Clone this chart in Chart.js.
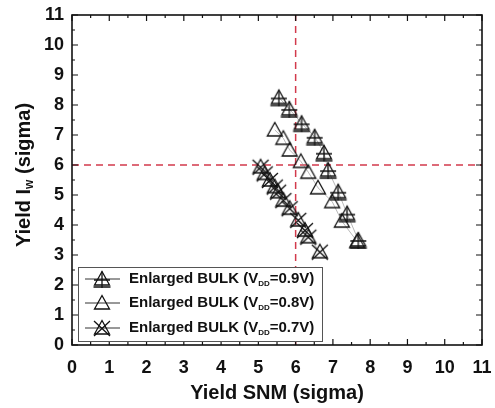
<!DOCTYPE html>
<html>
<head>
<meta charset="utf-8">
<script src="https://cdn.jsdelivr.net/npm/chart.js@4.4.0/dist/chart.umd.min.js"></script>
<style>
  html, body { margin: 0; padding: 0; background: #fff; }
  #wrap { width: 495px; height: 408px; }
</style>
</head>
<body>
<div id="wrap"><canvas id="chart" width="495" height="408"></canvas></div>
<script>
// values (sigma units)
const snm09 = [5.55, 5.83, 6.16, 6.51, 6.76, 6.87, 7.14, 7.38, 7.68];
const iw09  = [8.25, 7.87, 7.39, 6.94, 6.41, 5.83, 5.11, 4.38, 3.50];
const snm08 = [5.44, 5.67, 5.84, 6.14, 6.34, 6.60, 6.98, 7.24, 7.65];
const iw08  = [7.17, 6.89, 6.50, 6.12, 5.76, 5.24, 4.78, 4.13, 3.45];
const snm07 = [5.06, 5.17, 5.31, 5.44, 5.53, 5.67, 5.84, 6.07, 6.25, 6.34, 6.65];
const iw07  = [5.94, 5.72, 5.50, 5.28, 5.11, 4.83, 4.56, 4.17, 3.83, 3.61, 3.11];
const seriesLabels = ['0.9V', '0.8V', '0.7V'];
const targetSnm = 6;
const targetIw = 6;
const axisMin = 0;
const axisMax = 11;

const FONT = '"Liberation Sans", Arial, sans-serif';
const INK = '#111';

// triangle markers drawn once into small canvases
function makeMarker(kind) {
  const c = document.createElement('canvas');
  c.width = 20; c.height = 20;
  const g = c.getContext('2d');
  g.strokeStyle = INK;
  g.lineWidth = 1.3;
  g.beginPath();
  g.moveTo(10, 2.5);
  g.lineTo(17.5, 16);
  g.lineTo(2.5, 16);
  g.closePath();
  g.stroke();
  g.beginPath();
  if (kind === 'plus') {
    g.moveTo(10, 2.5); g.lineTo(10, 19);
    g.moveTo(2, 11); g.lineTo(18, 11);
    g.moveTo(1.5, 18); g.lineTo(18.5, 18);
  } else if (kind === 'x') {
    g.moveTo(2, 3); g.lineTo(18, 18);
    g.moveTo(18, 3); g.lineTo(2, 18);
  }
  g.stroke();
  return c;
}
const markers = [makeMarker('plus'), makeMarker('plain'), makeMarker('x')];

function pts(xs, ys) {
  return xs.map((x, i) => ({ x: x, y: ys[i] }));
}

function refLine(data) {
  return {
    data: data,
    showLine: true,
    borderColor: '#d23a4c',
    borderWidth: 1.5,
    borderDash: [7, 5],
    pointRadius: 0,
    order: 5
  };
}

function series(xs, ys, marker) {
  return {
    data: pts(xs, ys),
    showLine: true,
    borderColor: '#888',
    borderWidth: 0.6,
    pointStyle: marker,
    pointRadius: 8,
    order: 1
  };
}

// inward ticks on all four sides + frame, titles and legend
const frameTicks = {
  id: 'frameTicks',
  afterDatasetsDraw(chart) {
    const { ctx, chartArea: a, scales } = chart;
    ctx.save();
    ctx.strokeStyle = INK;
    ctx.lineWidth = 1.2;
    ctx.beginPath();
    for (let v = axisMin; v <= axisMax + 0.001; v += 0.5) {
      const len = Number.isInteger(v) ? 6 : 3;
      const px = scales.x.getPixelForValue(v);
      const py = scales.y.getPixelForValue(v);
      ctx.moveTo(px, a.bottom); ctx.lineTo(px, a.bottom - len);
      ctx.moveTo(px, a.top); ctx.lineTo(px, a.top + len);
      ctx.moveTo(a.left, py); ctx.lineTo(a.left + len, py);
      ctx.moveTo(a.right, py); ctx.lineTo(a.right - len, py);
    }
    ctx.stroke();
    ctx.lineWidth = 1.6;
    ctx.strokeRect(a.left, a.top, a.right - a.left, a.bottom - a.top);
    ctx.restore();
  },
  afterDraw(chart) {
    const { ctx, chartArea: a } = chart;
    ctx.save();
    ctx.fillStyle = INK;
    // x title
    ctx.font = 'bold 20px ' + FONT;
    ctx.textAlign = 'center';
    ctx.textBaseline = 'middle';
    ctx.fillText('Yield SNM (sigma)', (a.left + a.right) / 2, 393);

    // y title with subscript
    ctx.translate(24, 175);
    ctx.rotate(-Math.PI / 2);
    ctx.textAlign = 'left';
    const p1 = 'Yield I', p3 = ' (sigma)';
    ctx.font = 'bold 20px ' + FONT;
    const w1 = ctx.measureText(p1).width;
    const w3 = ctx.measureText(p3).width;
    ctx.font = 'bold 12px ' + FONT;
    const w2 = ctx.measureText('w').width;
    let x0 = -(w1 + w2 + w3) / 2;
    ctx.font = 'bold 20px ' + FONT;
    ctx.fillText(p1, x0, 0);
    ctx.font = 'bold 12px ' + FONT;
    ctx.fillText('w', x0 + w1, 6);
    ctx.font = 'bold 20px ' + FONT;
    ctx.fillText(p3, x0 + w1 + w2, 0);
    ctx.restore();

    // legend
    ctx.save();
    ctx.fillStyle = '#fff';
    ctx.fillRect(78, 267, 244, 74);
    ctx.strokeStyle = '#555';
    ctx.lineWidth = 1;
    ctx.strokeRect(78.5, 267.5, 244, 74);
    const rows = [279, 303, 328];
    rows.forEach((y, i) => {
      ctx.strokeStyle = '#333';
      ctx.lineWidth = 1;
      ctx.beginPath();
      ctx.moveTo(85, y); ctx.lineTo(120, y);
      ctx.stroke();
      ctx.drawImage(markers[i], 92, y - 10);
      ctx.fillStyle = INK;
      ctx.textBaseline = 'middle';
      ctx.textAlign = 'left';
      ctx.font = 'bold 15px ' + FONT;
      let x = 129;
      const a1 = 'Enlarged BULK (V';
      ctx.fillText(a1, x, y);
      x += ctx.measureText(a1).width;
      ctx.font = 'bold 8px ' + FONT;
      ctx.fillText('DD', x, y + 5);
      x += ctx.measureText('DD').width;
      ctx.font = 'bold 15px ' + FONT;
      ctx.fillText('=' + seriesLabels[i] + ')', x, y);
    });
    ctx.restore();
  }
};

new Chart(document.getElementById('chart'), {
  type: 'scatter',
  data: {
    datasets: [
      refLine([{ x: targetSnm, y: axisMin }, { x: targetSnm, y: axisMax }]),
      refLine([{ x: axisMin, y: targetIw }, { x: axisMax, y: targetIw }]),
      series(snm09, iw09, markers[0]),
      series(snm08, iw08, markers[1]),
      series(snm07, iw07, markers[2])
    ]
  },
  options: {
    responsive: false,
    animation: false,
    layout: { padding: { top: 15, right: 13, left: 0, bottom: 0 } },
    plugins: { legend: { display: false }, tooltip: { enabled: false } },
    scales: {
      x: {
        min: axisMin, max: axisMax,
        grid: { display: false, drawTicks: false },
        border: { display: false },
        ticks: { stepSize: 1, padding: 12, color: INK, maxRotation: 0,
                 font: { family: FONT, size: 18, weight: 'bold' } },
        afterFit(s) { s.height = 63; s.paddingLeft = 0; s.paddingRight = 0; }
      },
      y: {
        min: axisMin, max: axisMax,
        grid: { display: false, drawTicks: false },
        border: { display: false },
        ticks: { stepSize: 1, padding: 8, color: INK,
                 font: { family: FONT, size: 18, weight: 'bold' } },
        afterFit(s) { s.width = 72; s.paddingTop = 0; s.paddingBottom = 0; }
      }
    }
  },
  plugins: [frameTicks]
});
</script>
</body>
</html>
